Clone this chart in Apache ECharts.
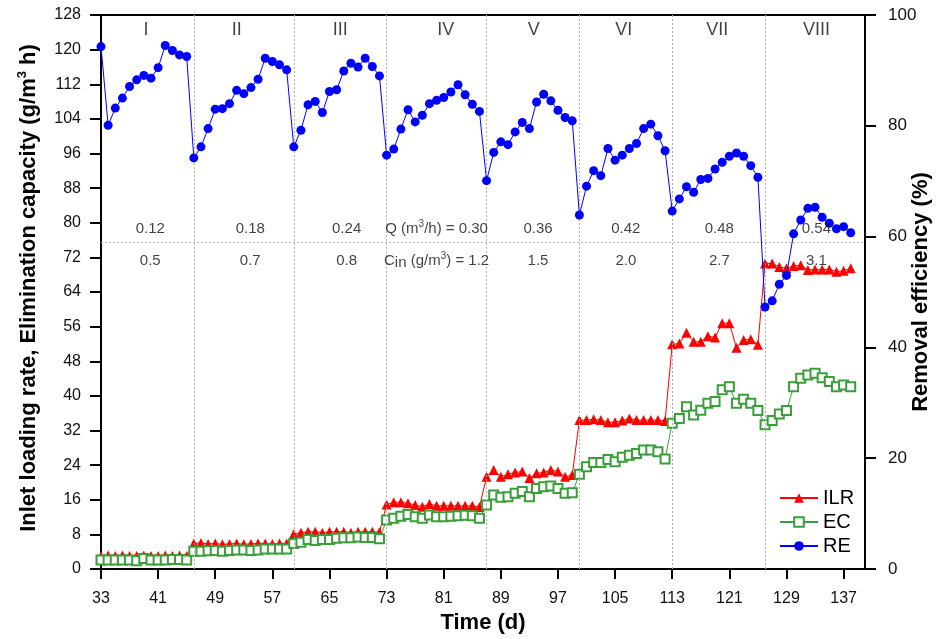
<!DOCTYPE html>
<html>
<head>
<meta charset="utf-8">
<script src="https://cdn.jsdelivr.net/npm/echarts@6/dist/echarts.min.js"></script>
<style>
  html, body { margin: 0; padding: 0; background: #fff; }
  #chart { width: 938px; height: 639px; }
</style>
</head>
<body>
<div id="chart"></div>
<script>
// ---------------- data ----------------
const days = [33,34,35,36,37,38,39,40,41,42,43,44,45,
  46,47,48,49,50,51,52,53,54,55,56,57,58,59,
  60,61,62,63,64,65,66,67,68,69,70,71,72,
  73,74,75,76,77,78,79,80,81,82,83,84,85,86,
  87,88,89,90,91,92,93,94,95,96,97,98,99,
  100,101,102,103,104,105,106,107,108,109,110,111,112,
  113,114,115,116,117,118,119,120,121,122,123,124,125,
  126,127,128,129,130,131,132,133,134,135,136,137,138];

const ilr = [3.0,3.1,3.0,3.1,3.0,3.0,3.1,3.0,3.0,3.1,3.0,3.1,3.0,
  5.9,6.0,5.8,5.9,5.7,5.8,5.9,5.7,5.8,5.9,5.9,5.8,5.9,5.9,
  8.1,8.4,8.6,8.6,8.4,8.6,8.6,8.6,8.4,8.6,8.6,8.6,8.5,
  14.9,15.4,15.4,15.2,14.8,14.4,15.0,14.6,14.6,14.6,14.6,14.6,14.6,14.3,
  21.3,22.9,21.3,21.9,22.3,22.5,21.0,22.1,22.3,22.9,22.5,21.3,21.7,
  34.4,34.4,34.6,34.4,33.9,33.9,34.3,34.8,34.4,34.4,34.4,34.4,34.2,
  51.9,52.1,54.6,52.5,52.5,53.8,53.5,56.8,56.8,51.1,52.9,53.1,51.8,
  70.6,70.6,69.8,69.5,70.0,70.2,69.1,69.2,69.2,69.2,68.7,68.9,69.5];

const ec = [2.1,2.1,2.1,2.1,2.1,1.9,2.4,2.1,2.1,2.1,2.2,2.2,2.1,
  4.1,4.1,4.2,4.3,4.1,4.3,4.4,4.4,4.3,4.4,4.6,4.6,4.6,4.6,
  5.9,6.2,6.8,6.6,6.8,6.8,7.1,7.2,7.2,7.4,7.3,7.3,7.0,
  11.3,11.7,12.2,12.6,12.1,11.7,12.5,12.1,12.1,12.2,12.3,12.4,12.3,11.7,
  14.8,17.1,16.6,16.7,17.5,17.9,16.7,18.6,19.0,19.2,18.6,17.5,17.6,
  21.9,23.6,24.6,24.6,25.3,24.8,25.8,26.3,26.7,27.5,27.5,27.1,25.4,
  33.7,34.8,37.5,35.6,36.7,38.3,38.7,41.4,42.1,38.3,39.2,38.3,36.6,
  33.3,34.3,35.8,36.6,42.1,44.1,44.8,45.2,44.2,43.3,42.1,42.5,42.1];

const re = [94.3,80.1,83.2,85.0,87.1,88.3,89.1,88.6,90.5,94.5,93.6,92.8,92.5,
  74.2,76.2,79.5,83.0,83.1,84.0,86.4,85.8,86.9,88.4,92.2,91.6,91.0,90.1,
  76.2,79.2,83.8,84.4,82.4,86.2,86.5,89.9,91.3,90.6,92.2,90.7,89.0,
  74.7,75.8,79.4,82.9,80.7,81.9,84.0,84.6,85.1,86.1,87.4,85.6,83.9,82.6,
  70.1,75.2,77.1,76.6,78.9,80.6,79.5,84.3,85.7,84.5,82.8,81.5,80.9,
  63.9,69.1,71.9,71.0,75.9,73.8,74.7,75.9,76.8,79.5,80.3,78.2,75.5,
  64.6,66.8,69.0,68.0,70.3,70.5,72.2,73.4,74.5,75.1,74.5,72.8,70.7,
  47.3,48.4,51.4,53.0,60.5,63.0,65.1,65.3,63.5,62.4,61.4,61.8,60.7];

const xTicks = [33,41,49,57,65,73,81,89,97,105,113,121,129,137];
const phaseStarts = [46,60,73,87,100,113,126];
const phaseNames = ['I','II','III','IV','V','VI','VII','VIII'];
const phaseNameDays = [39.3,52.0,66.5,81.3,93.6,106.2,119.3,133.2];
const phaseTextDays = [39.9,53.9,67.4,80.0,94.2,106.5,119.6,133.2];
const flowValues = ['0.12','0.18','0.24','0.30','0.36','0.42','0.48','0.54'];
const cinValues = ['0.5','0.7','0.8','1.2','1.5','2.0','2.7','3.1'];
const separatorLevel = 75.4;
const nameRowLevel = 124.6;
const flowRowLevel = 78.6;
const cinRowLevel = 71.2;

// ---------------- build ----------------
const FONT = "'Liberation Sans', Arial, Helvetica, sans-serif";
const pairs = (ys) => days.map((d, i) => [d, ys[i]]);

const nameData = phaseNames.map((n, i) => ({ value: [phaseNameDays[i], nameRowLevel], name: n }));
const flowData = flowValues.map((v, i) => ({ value: [phaseTextDays[i], flowRowLevel], name: v, first: i === 3 }));
const cinData = cinValues.map((v, i) => ({ value: [phaseTextDays[i], cinRowLevel], name: v }));

const textRich = {
  t: { fontSize: 15, color: '#111', fontFamily: FONT, lineHeight: 20 },
  sup: { fontSize: 10, color: '#111', fontFamily: FONT, verticalAlign: 'top', lineHeight: 20, padding: [0, 0, 8, 0] },
  sub: { fontSize: 15, color: '#111', fontFamily: FONT, verticalAlign: 'bottom', lineHeight: 20, padding: [8, 0, 0, 0] }
};

function annot(data, fmt, extra) {
  return Object.assign({
    type: 'scatter', xAxisIndex: 0, yAxisIndex: 0, data: data,
    symbolSize: 1, itemStyle: { color: 'rgba(0,0,0,0)' }, silent: true,
    label: { show: true, position: 'inside', formatter: fmt, rich: textRich,
      fontFamily: FONT, fontSize: 15, color: '#111' },
    z: 5
  }, extra || {});
}

const chart = echarts.init(document.getElementById('chart'), null, { renderer: 'canvas' });
chart.setOption({
  animation: false,
  backgroundColor: '#fff',
  textStyle: { fontFamily: FONT },
  grid: { left: 101, right: 73, top: 15, bottom: 70, containLabel: false, outerBoundsMode: 'none',
    show: true, borderColor: '#000', borderWidth: 2, backgroundColor: 'transparent' },
  legend: {
    data: ['ILR', 'EC', 'RE'],
    orient: 'vertical', left: 774, top: 483,
    itemWidth: 38, itemHeight: 12, itemGap: 4,
    textStyle: { fontSize: 20, lineHeight: 20, color: '#000', fontFamily: FONT }
  },
  xAxis: {
    type: 'value', min: 33, max: 140,
    name: 'Time (d)', nameLocation: 'middle', nameGap: 43, nameMoveOverlap: false,
    nameTextStyle: { fontSize: 22, fontWeight: 'bold', color: '#000', fontFamily: FONT },
    axisLine: { show: true, lineStyle: { color: '#000', width: 2 } },
    axisTick: { show: true, length: 10, lineStyle: { color: '#000', width: 2 }, customValues: xTicks },
    axisLabel: { fontSize: 16, color: '#111', margin: 22, customValues: xTicks },
    splitLine: { show: false }
  },
  yAxis: [{
    type: 'value', min: 0, max: 128, interval: 8, position: 'left',
    name: '{n|Inlet loading rate, Elimination capacity (g/m}{s|3}{n| h)}',
    nameLocation: 'middle', nameGap: 59, nameRotate: 90, nameMoveOverlap: false,
    nameTextStyle: {
      padding: [0, 0, 0, 8],
      rich: {
        n: { fontSize: 22, fontWeight: 'bold', color: '#000', fontFamily: FONT, lineHeight: 26 },
        s: { fontSize: 13, fontWeight: 'bold', color: '#000', fontFamily: FONT, verticalAlign: 'top', lineHeight: 26, padding: [0, 0, 10, 0] }
      }
    },
    axisLine: { show: true, lineStyle: { color: '#000', width: 2 } },
    axisTick: { show: true, length: 11, lineStyle: { color: '#000', width: 2 } },
    axisLabel: { fontSize: 16, color: '#111', margin: 20 },
    splitLine: { show: false }
  }, {
    type: 'value', min: 0, max: 100, interval: 20, position: 'right',
    name: 'Removal efficiency (%)', nameLocation: 'middle', nameGap: 45, nameRotate: 90, nameMoveOverlap: false,
    nameTextStyle: { fontSize: 22, fontWeight: 'bold', color: '#000', fontFamily: FONT },
    axisLine: { show: true, lineStyle: { color: '#000', width: 2 } },
    axisTick: { show: true, length: 11, lineStyle: { color: '#000', width: 2 } },
    axisLabel: { fontSize: 17, color: '#111', margin: 23 },
    splitLine: { show: false }
  }],
  series: [
    {
      name: 'ILR', type: 'line', yAxisIndex: 0, data: pairs(ilr),
      symbol: 'triangle', symbolSize: 10,
      lineStyle: { color: '#ff0000', width: 1 },
      itemStyle: { color: '#ff0000' },
      z: 3,
      markLine: {
        silent: true, symbol: 'none', label: { show: false },
        lineStyle: { color: '#b0b0b0', type: [2, 2], width: 1 },
        data: phaseStarts.map(d => ({ xAxis: d })).concat([{ yAxis: separatorLevel }])
      }
    },
    {
      name: 'EC', type: 'line', yAxisIndex: 0, data: pairs(ec),
      symbol: 'emptyRect', symbolSize: 9,
      lineStyle: { color: '#3a9e3a', width: 1 },
      itemStyle: { color: '#3a9e3a', borderWidth: 1 },
      z: 4
    },
    {
      name: 'RE', type: 'line', yAxisIndex: 1, data: pairs(re),
      symbol: 'circle', symbolSize: 9,
      lineStyle: { color: '#0000ff', width: 1 },
      itemStyle: { color: '#0000ff' },
      z: 5
    },
    annot(nameData, p => p.name, { label: { show: true, position: 'inside', formatter: p => p.name, fontSize: 18, color: '#111', fontFamily: FONT } }),
    annot(flowData, p => p.data.first ? '{t|Q (m}{sup|3}{t|/h) = ' + p.name + '}' : '{t|' + p.name + '}'),
    annot(cinData, p => p.dataIndex === 3 ? '{t|C}{sub|in}{t| (g/m}{sup|3}{t|) = ' + p.name + '}' : '{t|' + p.name + '}')
  ]
});
</script>
</body>
</html>
